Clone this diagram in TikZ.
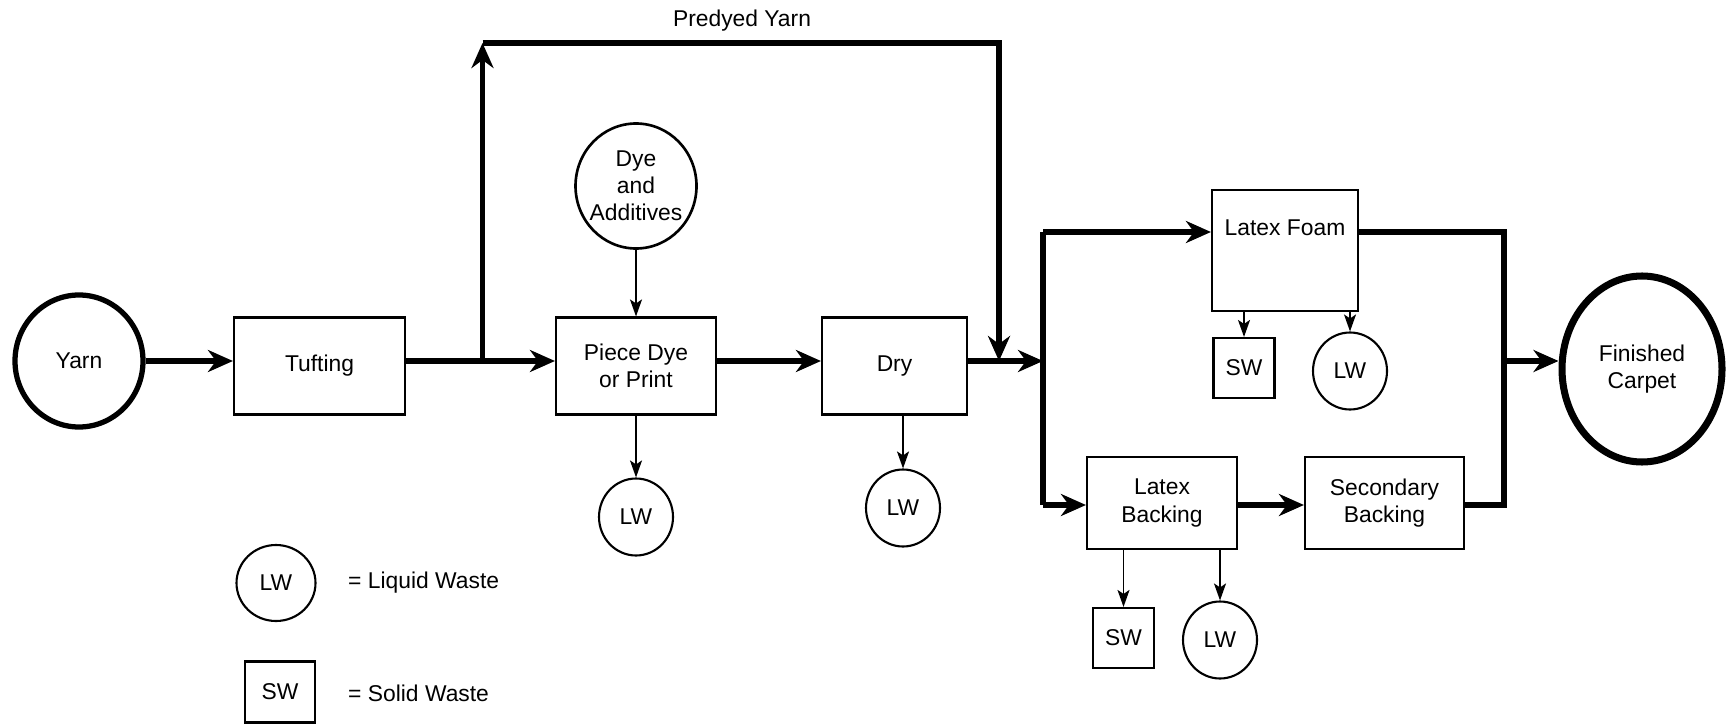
\documentclass[tikz,border=0pt]{standalone}
\usepackage{fontspec}
\setmainfont{Liberation Sans}
\usetikzlibrary{arrows.meta, positioning, calc, shapes.geometric}

\begin{document}
\begin{tikzpicture}[every node/.style={font=\fontsize{13}{15.5}\selectfont, align=center},
  box/.style={draw, line width=1.2pt, minimum height=1.94cm},
  lw/.style={draw, ellipse, line width=1.2pt, minimum width=1.48cm, minimum height=1.54cm, inner sep=0pt},
  sw/.style={draw, line width=1.2pt, minimum width=1.22cm, minimum height=1.2cm, inner sep=0pt},
  pipe/.style={line width=3.1pt},
  flow/.style={pipe, -{Stealth[length=0.5cm, width=0.44cm, inset=0.16cm]}},
  drain/.style={line width=1pt, -{Stealth[length=0.34cm, width=0.24cm, inset=0.08cm]}}]
\useasboundingbox (0,0) rectangle (34.62,14.48);
\node[draw, ellipse, line width=3pt, minimum width=2.56cm, minimum height=2.64cm] (yarn) at (1.58,7.26) {Yarn};
\node[box, minimum width=3.42cm] (tuft) at (6.39,7.16) {Tufting};
\node[box, minimum width=3.2cm] (dye) at (12.72,7.16) {Piece Dye\\or Print};
\node[draw, ellipse, line width=1.5pt, minimum width=2.42cm, minimum height=2.5cm, inner sep=-4pt] (add) at (12.72,10.76) {Dye\\and\\Additives};
\node[lw] (dyelw) at (12.72,4.14) {LW};
\node[box, minimum width=2.9cm] (dry) at (17.89,7.16) {Dry};
\node[lw] (drylw) at (18.06,4.32) {LW};
\node (predyed) at (14.84,14.06) {Predyed Yarn};
\node[box, minimum width=2.92cm, minimum height=2.42cm, text depth=0.9cm] (foam) at (25.70,9.47) {Latex Foam};
\node[sw] (foamsw) at (24.88,7.12) {SW};
\node[lw] (foamlw) at (27.00,7.06) {LW};
\node[box, minimum width=3.0cm, minimum height=1.84cm] (back) at (23.24,4.42) {Latex\\Backing};
\node[box, minimum width=3.18cm, minimum height=1.84cm] (sec) at (27.69,4.42) {Secondary\\Backing};
\node[sw] (backsw) at (22.47,1.72) {SW};
\node[lw] (backlw) at (24.40,1.68) {LW};
\node[draw, ellipse, line width=4pt, minimum width=3.2cm, minimum height=3.72cm] (carpet) at (32.84,7.1) {Finished\\Carpet};
\node[lw, minimum width=1.58cm, minimum height=1.52cm] (keylw) at (5.52,2.82) {LW};
\node[anchor=west] (keylwtext) at (6.84,2.82) {= Liquid Waste};
\node[sw, minimum width=1.4cm, minimum height=1.22cm] (keysw) at (5.60,0.64) {SW};
\node[anchor=west] (keyswtext) at (6.84,0.62) {= Solid Waste};
\coordinate (fork) at (9.65,7.26);
\coordinate (forktop) at (9.65,13.62);
\coordinate (jointop) at (19.98,13.62);
\coordinate (join) at (19.98,7.26);
\coordinate (split) at (20.86,7.26);
\coordinate (splittop) at (20.86,9.84);
\coordinate (splitbot) at (20.86,4.38);
\coordinate (merge) at (30.08,7.26);
\coordinate (mergetop) at (30.08,9.84);
\coordinate (mergebot) at (30.08,4.38);
\draw[flow] (yarn.east) -- (yarn.east -| tuft.west);
\draw[pipe] (tuft.east |- fork) -- (fork);
\draw[flow] (fork) -- (dye.west |- fork);
\draw[flow] (fork) -- (forktop);
\draw[flow] (forktop) -- (jointop) -- (join);
\draw[drain] (add) -- (dye);
\draw[drain] (dye) -- (dyelw);
\draw[flow] (dye.east |- fork) -- (dry.west |- fork);
\draw[drain] (drylw |- dry.south) -- (drylw);
\draw[flow] (dry.east |- fork) -- (split);
\draw[pipe] (splittop) -- (splitbot);
\draw[flow] (splittop) -- (splittop -| foam.west);
\draw[flow] (splitbot) -- (splitbot -| back.west);
\draw[drain] (foamsw |- foam.south) -- (foamsw);
\draw[drain] (foamlw |- foam.south) -- (foamlw);
\draw[drain] (backsw |- back.south) -- (backsw);
\draw[drain] (backlw |- back.south) -- (backlw);
\draw[flow] (back.east |- splitbot) -- (sec.west |- splitbot);
\draw[pipe] (foam.east |- splittop) -- (mergetop) -- (mergebot) -- (sec.east |- mergebot);
\draw[flow] (merge) -- (merge -| carpet.west);
\end{tikzpicture}
\end{document}
